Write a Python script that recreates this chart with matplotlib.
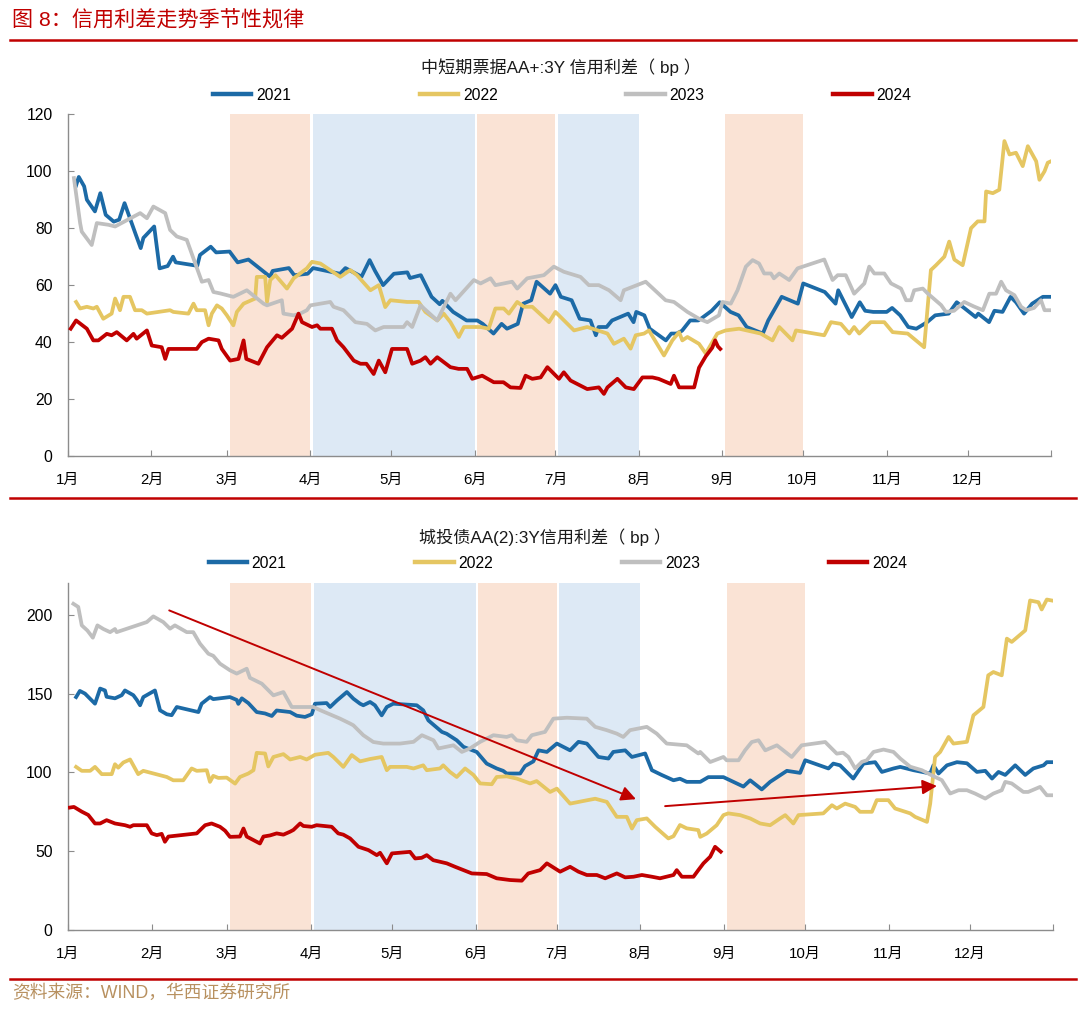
import matplotlib
matplotlib.use('Agg')
import matplotlib.pyplot as plt
from matplotlib.lines import Line2D

plt.rcParams['font.family'] = ['Liberation Sans', 'Noto Sans CJK SC']
plt.rcParams['axes.unicode_minus'] = False

# ---------------- data ----------------
month_labels = ['1月', '2月', '3月', '4月', '5月', '6月', '7月', '8月', '9月', '10月', '11月', '12月', '']
month_starts = [0, 31, 59, 90, 120, 151, 181, 212, 243, 273, 304, 334, 365]
years = ['2021', '2022', '2023', '2024']

# seasonal shading (day-of-year start, end, kind)
bands = [(60, 90, 'warm'), (91, 151, 'cool'), (152, 181, 'warm'), (182, 212, 'cool'), (244, 273, 'warm')]

# 中短期票据AA+:3Y 信用利差 (day of year, bp)
cp_2021 = [(3,95),(4,98),(6,94.7),(7,90),(10,85.9),(12,92.3),(14,84.7),(17,82.3),(19,83),(21,88.8),(25,78.2),(27,73),(28,76.6),(32,80.6),(34,65.9),(37,66.7),(39,70),(40,68),(48,66.8),(49,70.6),(53,73.5),(55,71.5),(60,71.8),(63,68),(67,69),(75,63),(76,65),(82,66),(84,63.5),(89,64),(91,66),(101,64),(103,66),(109,63),(112,68.8),(114,65),(117,60),(121,64),(126,64.5),(127,62.5),(131,63.5),(135,55.9),(138,53.3),(139,54.5),(143,50.6),(148,47.6),(152,47.6),(154,46.4),(158,43),(161,46.4),(163,44.7),(167,46.4),(169,53.5),(172,54.7),(174,61.2),(179,57),(181,60),(183,55.9),(187,54.7),(190,48.2),(194,47.6),(196,42.4),(197,45.3),(200,45.3),(202,47.6),(208,50),(210,47),(211,50.6),(214,49.4),(216,44.7),(222,40.6),(224,43),(226,43),(228,44),(231,47.6),(234,47.6),(235,48.2),(239,51),(242,54),(246,50.6),(249,49.4),(252,45.3),(258,43),(260,47.6),(265,55.9),(268,54.7),(271,53.5),(273,60.6),(281,57.6),(285,53.5),(286,58.2),(291,48.8),(294,54),(296,51),(299,50.6),(304,50.6),(306,52),(309,49.4),(312,45.3),(315,44.7),(319,47),(322,49.4),(327,50),(330,54),(333,51.8),(337,48.8),(338,50),(342,47),(344,51),(347,50.6),(350,55.9),(352,54),(355,50),(358,53.5),(360,54.7),(362,55.9),(365,55.9)]
cp_2022 = [(3,54.1),(4.5,51.8),(7,52.4),(9.4,51.8),(10.7,52.4),(13.1,48.2),(16.2,50),(17.5,55.3),(19.3,51.2),(20.6,55.9),(23,55.9),(24.9,51.2),(27.4,51.2),(29.3,50),(37.9,51.2),(39.1,50.6),(44.7,50),(46.6,53.5),(47.8,51.2),(50.9,51.2),(52.2,45.9),(53.4,50),(55.3,52.9),(57.1,51.8),(59,49.4),(61.4,45.9),(62.7,50.6),(65.2,53.5),(69.5,55.3),(70.1,62.9),(73.2,62.9),(73.9,54.1),(75.1,61.8),(77,63.5),(81.3,58.8),(83.8,62.4),(88.7,65.9),(90.6,68.2),(93.7,67.6),(101.1,62.9),(104.8,65.3),(107.3,63.5),(112.3,58.2),(115.4,60),(117.8,52.3),(119.7,54.7),(125.9,54.1),(130.2,54.1),(132.7,50.6),(137.1,47.6),(139.5,50),(142,47),(145.1,41.8),(147,45.3),(153.2,45.3),(156.2,44.7),(158.7,51.8),(161.8,51.8),(163.7,50),(166.8,54.1),(169.3,52.4),(172.4,52.4),(178.6,47),(181,50.6),(187.9,44.1),(192.8,45.3),(200.3,43),(202.7,39.4),(206.4,41.2),(208.9,37.7),(210.8,42.4),(213.9,43),(215.7,44.1),(221.3,35.3),(224.4,40.6),(226.9,43.5),(228.1,40.6),(230,41.8),(234.3,39.4),(236.8,36),(241.1,43),(244.2,44.1),(249.2,44.7),(257.2,43),(261.6,40.6),(264.1,45.3),(269,40.6),(270.3,44.1),(280.8,42.4),(283.3,47),(287,46.4),(290.1,43),(291.9,45.3),(293.8,43),(298.1,47),(303.1,47),(306.2,43.5),(311.8,43),(317.9,38.2),(320.4,65.3),(322.3,67),(325.4,70),(327.2,75.3),(329.1,69),(332.2,67),(335.3,80),(337.8,82.4),(340.3,82.4),(340.9,92.9),(343.4,92.3),(345.8,93.5),(347.7,110.6),(349.6,105.9),(352,106.5),(354.5,101.8),(356.4,108.8),(359.5,103.5),(360.7,97),(362.6,100),(363.8,103),(365,103.5)]
cp_2023 = [(2.2,97.6),(4.5,81.8),(5.1,78.8),(8.8,74.1),(10.7,81.8),(15,81.2),(17.5,80.6),(26.8,85.3),(29.3,83.5),(31.7,87.6),(36.1,85.3),(37.9,79.4),(40.4,77.1),(44.1,75.9),(49.7,61.2),(52.2,61.8),(54,57.6),(56.5,57.1),(61.4,55.9),(66.4,58.2),(72.6,53.5),(73.9,52.9),(79.4,54.7),(80,50),(83.8,49.4),(86.2,50),(88.7,51.2),(90,52.9),(97.4,54.1),(98.6,52.4),(102.3,51.2),(106.7,47),(111,46.4),(114.1,44.1),(117.2,45.3),(124.6,45.3),(125.9,47),(127.8,45.3),(130.9,52.9),(137.1,47.6),(142,57),(143.9,54.7),(150.7,61.8),(153.2,60.6),(156.9,62.4),(158.7,60),(164.9,61.2),(166.8,58.8),(170.5,62.4),(176.7,63.5),(180.4,66.5),(184.1,64.7),(190.3,62.9),(193.4,60),(197.1,60),(200.9,58.2),(205.2,54.7),(206.4,58.2),(214.5,61.2),(221.9,54.7),(225,54.1),(230,50.6),(234.3,48.2),(237.4,47),(241.7,49.4),(243,54.1),(246.1,53.5),(248.6,58.2),(251.7,66.5),(254.2,68.8),(256.6,67.6),(258.5,64.1),(261,64.1),(262.1,62.4),(264.1,64.1),(267.8,61.8),(270.9,65.9),(280.8,69),(283.9,61.8),(285.8,63.5),(288.8,63.5),(291.9,57),(295.7,60.6),(297.5,66.5),(299.4,64.1),(303.1,64.1),(305.6,60.6),(309.3,58.8),(311.2,54.7),(313,54.7),(314.2,58.2),(317.4,58.8),(319.2,57.1),(324.2,53),(326,50.6),(329,51),(332.8,54.1),(336.4,52.5),(339.7,51.2),(342.1,57),(344.6,57),(346.5,61.2),(348.3,58.2),(351.4,56.5),(353.9,52.4),(355.8,51.2),(358.7,52),(361.3,54.7),(362.6,51.2),(365,51.2)]
cp_2024 = [(1,44.7),(3,47.6),(7,44.7),(9.4,40.6),(11.3,40.6),(14.4,42.9),(16.2,42.4),(18.1,43.5),(21.8,40.6),(24.3,42.9),(25.5,41.2),(29.3,44.1),(31.1,38.8),(34.8,38.2),(36.1,34.1),(37.3,37.6),(47.8,37.6),(49.7,40),(52.2,41.2),(55.9,40.6),(57.1,37.6),(60.2,33.5),(63.3,34.1),(65.2,40.6),(66.2,34.1),(70.7,32.4),(73.9,38.2),(77.6,42.4),(79.4,41.5),(83.2,44.7),(85.6,50),(86.9,47),(90.6,45.3),(92.5,45.9),(93.7,44.7),(98,44.7),(99.9,40.6),(102.3,38.2),(106.1,33.5),(108.6,32.4),(110.8,32.4),(113.5,28.8),(115.4,33.5),(117.8,29.4),(120.3,37.6),(125.9,37.6),(127.8,32.4),(130.9,33.5),(132.7,34.7),(134.6,32.4),(137.1,34.7),(142,31.2),(145,30.6),(148.2,30.6),(150.1,27.1),(153.8,28.2),(158.1,25.9),(161.7,25.9),(164.3,24.1),(168,23.9),(169.9,28.2),(172.4,27.1),(175.5,27.6),(178,31.2),(182.3,27.1),(184.1,29.4),(186.6,26.5),(192.8,23.5),(197.1,24.1),(199,21.8),(200.3,24.1),(204,27.1),(207.1,24.1),(210.1,23.5),(213.3,27.6),(217,27.6),(219.3,27.1),(223.8,25.3),(225,28.2),(226.9,24.1),(232.5,24.1),(234.3,31),(236.8,35),(239.2,38),(240.3,40.6),(241.3,38.5),(242.2,37.6)]

# 城投债AA(2):3Y信用利差 (day of year, bp)
ct_2021 = [(3,147.8),(4.4,151.7),(6.3,150),(10,143.6),(11.9,153.2),(13.7,152),(14.3,148),(17.4,147),(19.9,149),(21.1,152),(24.2,149),(25.5,146),(26.7,142.6),(27.9,147.8),(32.2,152),(34.1,139.4),(36.6,136.9),(38.4,136.3),(40.3,141.5),(48.3,138.3),(49.5,143.6),(52.6,147.8),(53.8,146.5),(60,147.8),(62.5,146),(63.1,143.5),(64.4,147),(66.8,144),(69.9,138.3),(73,137.4),(75.5,135.8),(77.3,139.3),(82.3,138.3),(84.7,136),(87.8,135.2),(90.3,136.9),(91.5,143.6),(95.8,144),(97.1,141.5),(99.6,145.6),(103.3,151),(105.7,146.8),(108.2,143.6),(109.4,142.6),(111.9,144.7),(113.7,142.6),(116.2,136.2),(118.1,141.5),(120.5,143.6),(129.2,142.6),(131.6,139.4),(133.5,133),(138.5,125.7),(140.3,124.5),(144,120.4),(146.5,116.2),(151.4,113),(155.1,105.6),(158.8,102.5),(161.2,101),(162.5,99.3),(167.5,99.3),(169.3,104),(172.4,107),(174.3,114),(177.4,113),(181.1,118.3),(186,114),(189.1,119.4),(192.2,118.3),(196.5,109.8),(200.2,108.8),(202,113),(206.4,114),(208.9,109.8),(213.8,112),(216.3,101.4),(219.9,98.4),(224.3,95),(226.7,96),(229.2,94),(234.2,94),(237.2,97),(242.8,97),(246.5,94),(250.2,91),(252.7,95),(257,89.2),(260.1,94),(266.3,101),(271.2,99.7),(273.1,107.7),(281.7,102.5),(283.5,105.6),(286,104.5),(290.9,96.1),(294.7,105.6),(299,106.5),(301.5,100.3),(305.8,102.5),(308.3,103.5),(313.2,101.4),(319.4,99.3),(320.6,104.5),(322.5,99.3),(325.6,104.5),(329.3,106.5),(333,105.8),(336.7,100.3),(339.8,101),(342.3,96.1),(344.7,100.3),(347.2,98.4),(350.9,104.5),(354.6,98.4),(357.6,102.5),(361.4,104.5),(362.6,106.5),(365,106.5)]
ct_2022 = [(3,103.5),(5.1,101),(8.2,101),(10,103.5),(12.5,98.9),(16.2,98.9),(17.4,105.2),(18.6,103),(20.5,106.3),(23,108.2),(26,98.9),(27.9,101),(36.6,97.1),(39,95),(42.7,95),(45.8,102.5),(47.7,101),(51.4,101.4),(52.6,94),(53.8,97.8),(55.7,96.5),(58.8,96.7),(61.9,92.9),(63.7,97.1),(66.8,99.3),(68.7,101.4),(69.9,112.4),(73,112),(74.2,103.8),(76.1,109.8),(79.8,111.6),(82.3,108.2),(86,109.8),(88.4,108.2),(91.5,111.2),(96.4,112.4),(98.3,109.8),(102,103.5),(105.1,111),(108.2,107),(111.9,108.5),(116.2,109.8),(118.1,101.4),(119.3,103.5),(125.5,103.5),(128,102.5),(131.6,104.5),(132.9,101.4),(137.8,102.5),(139,104.5),(141.5,100.3),(144,97.1),(147.1,102.5),(150.2,98.4),(152.7,93),(157,92.5),(158.8,97.1),(162.5,97.5),(166.2,96.1),(171.2,93),(173.6,94.5),(178.6,87.6),(181.1,89.7),(186,80.2),(192.2,82.3),(195.3,83.3),(199.6,81.3),(203.3,71.8),(207,71.8),(208.9,64.4),(210.7,69.7),(214.4,70.8),(217.5,65.5),(222.4,58.1),(224.3,59.5),(226.7,66.6),(229.2,64.5),(233.5,63.4),(234.2,59.1),(236.6,61.2),(240.3,66.5),(242.8,72.9),(244.6,74),(249,72.9),(252.7,70.8),(256.4,67.6),(260.1,66.5),(263.8,70.8),(265.7,72.9),(268.7,67.6),(270.6,72.9),(279.8,74),(283,79.2),(284.8,77.1),(287.9,80.2),(291.6,78.1),(293.4,75),(297.8,75),(299.6,82.4),(303.9,82.4),(306.4,77.1),(312,74),(313.8,71.8),(318.2,68.6),(319.4,80.2),(321.2,109.8),(323.1,113),(326.2,122.5),(328,118.3),(333,119.4),(335.4,136.2),(339.1,141.5),(340.9,161.6),(342.8,163.7),(345.9,161.6),(347.8,184.9),(349.6,182.8),(354.6,190.1),(356.4,209.1),(359.5,208),(360.7,203.4),(362.6,209.7),(365,208.9)]
ct_2023 = [(2,207),(3.8,205),(5.1,193.3),(7.2,190),(9.2,185.5),(10.9,193.3),(13.1,191),(15.6,189),(17.4,191),(18,189),(29.2,195.4),(31.6,199),(35.3,195.4),(37.8,191.2),(39.6,193.3),(44,189),(46.4,189),(48.9,181.7),(52,175.3),(53.8,174),(56.3,169),(60,164.8),(62.5,162.7),(66.2,165.8),(67.4,160),(71.8,156.3),(76.1,148.9),(79.8,151),(82.9,141.5),(87.2,141.5),(90.9,141.5),(93.4,139.5),(100.8,134.1),(104.5,131),(105.7,129.9),(109.4,123.6),(113.1,119.3),(116.8,118.3),(123,118.3),(128,119.4),(131.1,123.6),(135.4,120.4),(137.2,115.2),(142.8,117.2),(145.9,113),(148.9,115.2),(152.7,119.4),(157.6,123.6),(162.5,122.5),(164.4,123.6),(166.2,120.4),(169.9,119.4),(171.8,123.6),(176.7,125.7),(179.8,134.1),(184.8,134.7),(192.2,134.1),(195.3,128.9),(199.6,126.8),(203.3,124.6),(205.7,122.5),(208.2,126.8),(214.4,128.9),(218.1,124.6),(221.8,118.3),(229.2,117.2),(233.5,112),(234.2,113),(237.9,106.6),(242.8,109.8),(244,107.7),(248.4,107.7),(250.8,114),(253.3,119.3),(255.8,120.4),(258.3,114),(262.6,117.2),(268.1,109.8),(271.8,117.2),(280.5,119.3),(284.8,111.9),(287.1,112.5),(289.1,109.8),(291.6,102.5),(294.1,106.7),(295.9,107.7),(298.4,113),(302.1,114.5),(305.8,113),(308.3,108.8),(312,103.6),(316.3,101.4),(320.6,97.6),(323.7,95.1),(326.8,86.6),(329.9,88.7),(333,88.7),(336,86.6),(339.8,83.4),(342.8,86.6),(345.9,88.7),(347.2,94),(349.6,93),(353.9,87.6),(355.7,87.6),(360.1,90.8),(362.6,85.5),(365,85.5)]
ct_2024 = [(0.7,77.7),(2.2,78.1),(5.1,75.1),(7.5,73),(10,67.6),(11.9,67.6),(14.3,69.7),(17.4,67.6),(21.1,66.5),(23,65.5),(24.2,66.5),(29.2,66.5),(31,61.3),(32.9,60.2),(34.7,61),(35.9,56),(37.2,59.3),(47.7,61.3),(50.8,66.5),(53.2,67.6),(56.3,65.5),(58.2,63),(60,59.1),(63.7,59.3),(65,64.4),(66.2,59.3),(71.1,54.9),(72.4,59.3),(74.8,60),(77.3,61.3),(79.8,60.5),(82.3,62.4),(83.5,63.5),(86,67.6),(87.2,66),(90.3,65.5),(92.1,66.5),(97.7,65.5),(100.1,61.3),(102,60.5),(104.5,58.1),(107.6,52.8),(111.3,50.7),(114.4,47.5),(115.6,49),(118.1,42.3),(120,48.6),(126.7,49.6),(128.6,45.4),(131,45.8),(132.9,47.5),(135.3,44.3),(140.3,42.3),(143.4,40.1),(149.6,35.9),(155.1,35.5),(158.8,32.8),(163.8,31.7),(168.1,31.3),(170.5,35.9),(174.9,38),(177.4,42.3),(182.3,37),(186,40.1),(189.1,37),(192.2,34.9),(195.9,34.9),(199,32.8),(203.3,35.9),(206.4,33.4),(209.5,33.8),(212.6,34.9),(216.3,33.8),(219.3,32.8),(224.3,34.9),(225.5,38),(227.4,33.8),(231.7,33.8),(233.5,38),(235.4,42.3),(237.9,46.5),(239.7,52.8),(241.8,49.7)]

# trend arrows on the lower chart: (start day, start bp, end day, end bp)
trend_arrows = [(37.5, 202.8, 210.4, 83.0), (221.2, 78.6, 321.9, 91.4)]

# ---------------- style ----------------
line_colors = {'2021': '#1C6AA6', '2022': '#E5C662', '2023': '#BFBFBF', '2024': '#C00000'}
band_colors = {'warm': '#FAE3D5', 'cool': '#DDE9F5'}
RED = '#C00000'
AXIS_GRAY = '#8C8C8C'

W, H = 1080, 1009
fig = plt.figure(figsize=(W / 100, H / 100), dpi=100)


def fx(px):
    return px / W


def fy(py):
    return 1 - py / H


def make_axes(left, right, top, bottom):
    return fig.add_axes([fx(left), fy(bottom), fx(right) - fx(left), (bottom - top) / H])


def style_axes(ax, ymax, ystep):
    ax.set_xlim(0, 365)
    ax.set_ylim(0, ymax)
    for b0, b1, kind in bands:
        ax.axvspan(b0, b1, color=band_colors[kind], lw=0, zorder=0)
    ax.set_xticks(month_starts)
    ax.set_xticklabels(month_labels, fontsize=10.8)
    ax.set_yticks(list(range(0, int(ymax) + 1, ystep)))
    ax.tick_params(axis='x', direction='in', length=4, width=0.8, color=AXIS_GRAY, pad=12)
    ax.tick_params(axis='y', direction='in', length=4, width=0.8, color=AXIS_GRAY, pad=11, labelsize=11.3)
    for s in ['top', 'right']:
        ax.spines[s].set_visible(False)
    for s in ['left', 'bottom']:
        ax.spines[s].set_color(AXIS_GRAY)
        ax.spines[s].set_linewidth(1.0)
    ax.set_facecolor('none')


def plot_series(ax, series_list):
    for year, series in zip(years, series_list):
        xs = [p[0] for p in series]
        ys = [p[1] for p in series]
        ax.plot(xs, ys, color=line_colors[year], lw=2.7, solid_joinstyle='round', zorder=3)


def add_legend(ax, xcenter, dy_px, ax_h_px):
    handles = [Line2D([0], [0], color=line_colors[y], lw=3.2) for y in years]
    ax.legend(handles, years, loc='center', bbox_to_anchor=(xcenter, 1 + dy_px / ax_h_px),
              ncol=4, frameon=False, fontsize=11.3, handlelength=2.45, handletextpad=0.3,
              columnspacing=8.2, borderaxespad=0, borderpad=0)


# top chart
ax1 = make_axes(68, 1051, 114.3, 456)
style_axes(ax1, 120, 20)
plot_series(ax1, [cp_2021, cp_2022, cp_2023, cp_2024])
add_legend(ax1, 0.5026, 19, 456 - 114.3)

# bottom chart
ax2 = make_axes(68, 1053.3, 583.3, 930)
style_axes(ax2, 220, 50)
plot_series(ax2, [ct_2021, ct_2022, ct_2023, ct_2024])
add_legend(ax2, 0.497, 20, 930 - 583.3)
for x0, y0, x1, y1 in trend_arrows:
    ax2.annotate('', xy=(x1, y1), xytext=(x0, y0),
                 arrowprops=dict(arrowstyle='-|>', color=RED, lw=1.4, mutation_scale=22,
                                 shrinkA=0, shrinkB=0), zorder=5)

# titles
fig.text(fx(561), fy(67), '中短期票据AA+:3Y 信用利差（ bp ）', ha='center', va='center', fontsize=12.3, color='#1a1a1a')
fig.text(fx(545), fy(537), '城投债AA(2):3Y信用利差（ bp ）', ha='center', va='center', fontsize=12.3, color='#1a1a1a')

# header / footer
fig.text(fx(12), fy(19), '图 8：信用利差走势季节性规律', ha='left', va='center', fontsize=15.2, color=RED)
fig.text(fx(12), fy(993), '资料来源：WIND，华西证券研究所', ha='left', va='center', fontsize=12.8, color='#B89160')
for yline in (40, 498, 979):
    fig.add_artist(Line2D([fx(10), fx(1076)], [fy(yline), fy(yline)], color=RED, lw=1.8))

fig.savefig('out.png', dpi=100)
